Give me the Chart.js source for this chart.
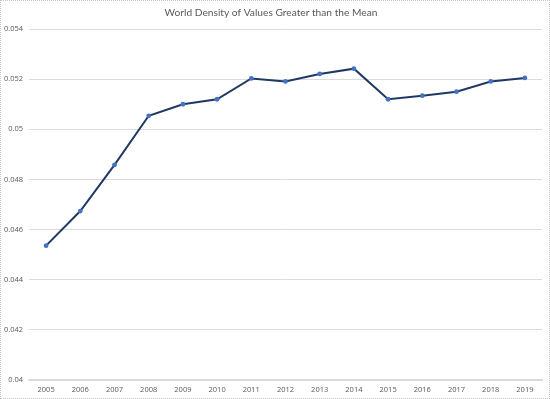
<!DOCTYPE html>
<html>
<head>
<meta charset="utf-8">
<script src="https://cdn.jsdelivr.net/npm/chart.js@4/dist/chart.umd.min.js"></script>
<style>
  body { margin: 0; background: #fff; }
  #wrap { position: relative; width: 550px; height: 399px; }
  #frame { position: absolute; left: 0; top: 0; width: 548px; height: 397px; border: 1px dotted #c4c4c4; pointer-events: none; }
</style>
</head>
<body>
<div id="wrap">
  <canvas id="Chart" width="550" height="399"></canvas>
  <div id="frame"></div>
</div>
<script>
// data
const years = ['2005', '2006', '2007', '2008', '2009', '2010', '2011', '2012', '2013', '2014', '2015', '2016', '2017', '2018', '2019']
const density = [0.04536, 0.04674, 0.04858, 0.05054, 0.05100, 0.05120, 0.05203, 0.05191, 0.05221, 0.05242, 0.05120, 0.05134, 0.05150, 0.05191, 0.05205]
const yTicks = [0.04, 0.042, 0.044, 0.046, 0.048, 0.05, 0.052, 0.054]

const textGray = '#595959'
const gridGray = '#dcdcdc'

const ctx = document.getElementById('Chart').getContext('2d')
const myChart = new Chart(ctx, {
    type: 'line',
    data: {
        labels: years,
        datasets: [{
            label: 'Density',
            data: density,
            borderColor: '#1f3864',
            borderWidth: 2,
            pointRadius: 2.4,
            pointBackgroundColor: '#4472c4',
            pointBorderColor: '#4472c4',
            pointBorderWidth: 0,
            tension: 0
        }]
    },
    options: {
        responsive: false,
        animation: false,
        layout: { padding: { left: 0, right: 8, top: 0, bottom: 0 } },
        plugins: {
            legend: { display: false },
            tooltip: { enabled: false },
            title: {
                display: true,
                text: 'World Density of Values Greater than the Mean',
                color: textGray,
                font: { family: 'Lato', size: 10.2, weight: 'normal' },
                padding: { top: 7, bottom: 9.8 }
            }
        },
        scales: {
            x: {
                offset: true,
                grid: { display: false, drawTicks: false },
                border: { color: '#d9d9d9', width: 1.5 },
                ticks: {
                    color: textGray,
                    font: { family: 'Open Sans', size: 7.5 },
                    maxRotation: 0,
                    autoSkip: false,
                    padding: 5
                },
                afterFit: function (scale) { scale.height = 19 }
            },
            y: {
                min: 0.04,
                max: 0.054,
                afterBuildTicks: function (scale) {
                    scale.ticks = yTicks.map(v => ({ value: v }))
                },
                grid: { color: gridGray, drawTicks: false },
                border: { display: false },
                ticks: {
                    color: textGray,
                    font: { family: 'Open Sans', size: 7.5 },
                    padding: 6,
                    callback: v => String(+v.toFixed(3))
                },
                afterFit: function (scale) { scale.width = 29 }
            }
        }
    }
})
</script>
</body>
</html>
